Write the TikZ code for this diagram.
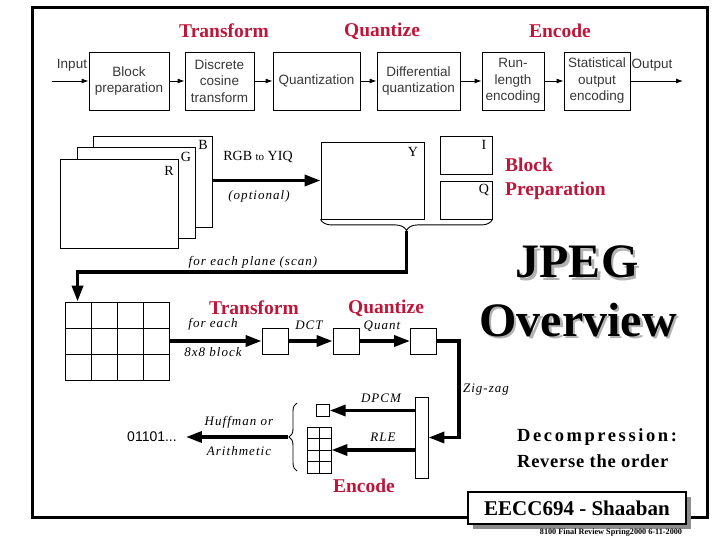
\documentclass[tikz,border=0pt]{standalone}
\usepackage{fontspec}
\setmainfont{Liberation Serif}
\newfontfamily\sansf{Liberation Sans}
\newfontfamily\itsp[LetterSpace=8]{Liberation Serif}
\newfontfamily\bsp[LetterSpace=4]{Liberation Serif}
\newfontfamily\bspw[LetterSpace=14]{Liberation Serif}
\usetikzlibrary{arrows.meta,decorations.pathreplacing}
\definecolor{jred}{RGB}{190,22,58}
\definecolor{ptext}{RGB}{55,55,55}
\begin{document}
\begin{tikzpicture}[x=1pt,y=-1pt,
 pbox/.style={draw, line width=0.8pt, minimum height=58pt, inner sep=1pt, align=center, font=\sansf\fontsize{13.5}{16.5}\selectfont, text=ptext},
 plab/.style={font=\sansf\fontsize{13.5}{16}\selectfont, text=ptext, inner sep=0pt},
 thinarr/.style={line width=0.9pt, -{Latex[length=7pt,width=5pt]}},
 thickarr/.style={line width=3.5pt, -{Triangle[length=16pt,width=11pt]}},
 redhead/.style={font=\bfseries\fontsize{19.5}{24}\selectfont, text=jred, inner sep=0pt},
 plane/.style={draw, line width=0.9pt, fill=white, inner sep=0pt},
 cell/.style={draw, line width=0.9pt, fill=white, inner sep=0pt},
 lett/.style={font=\fontsize{14}{16}\selectfont, inner sep=0pt},
 itl/.style={font=\itsp\itshape\fontsize{13}{15}\selectfont, inner sep=0pt},
 bigt/.style={font=\bfseries\fontsize{48}{50}\selectfont, inner sep=0pt},
]
\useasboundingbox (0,0) rectangle (720,540);
\draw[line width=3pt] (32,8) rectangle (707,517);

% ---- top pipeline
\node[redhead] (h1) at (224,31) {Transform};
\node[redhead] (h2) at (382,31) {Quantize};
\node[redhead] (h3) at (560,31) {Encode};
\node[pbox, minimum width=80pt] (b1) at (129,81) {Block\\preparation};
\node[pbox, minimum width=69pt] (b2) at (219.5,81) {Discrete\\cosine\\transform};
\node[pbox, minimum width=87pt] (b3) at (316.5,81) {Quantization};
\node[pbox, minimum width=83pt] (b4) at (418.5,81) {Differential\\quantization};
\node[pbox, minimum width=62pt] (b5) at (513,81) {Run-\\length\\encoding};
\node[pbox, minimum width=66pt] (b6) at (597,81) {Statistical\\output\\encoding};
\coordinate (in) at (52,81);
\coordinate (out) at (683,81);
\node[plab] (inl) at (72,65) {Input};
\node[plab] (outl) at (652,65) {Output};
\draw[thinarr] (in) -- (b1);
\draw[thinarr] (b1) -- (b2);
\draw[thinarr] (b2) -- (b3);
\draw[thinarr] (b3) -- (b4);
\draw[thinarr] (b4) -- (b5);
\draw[thinarr] (b5) -- (b6);
\draw[thinarr] (b6) -- (out);

% ---- RGB planes
\node[plane, minimum width=119pt, minimum height=91pt] (pB) at (152.5,181.5) {};
\node[plane, minimum width=118pt, minimum height=91pt] (pG) at (136,192.5) {};
\node[plane, minimum width=118pt, minimum height=89pt] (pR) at (119,203.5) {};
\node[lett] (lB) at (203,145) {B};
\node[lett] (lG) at (186,157) {G};
\node[lett] (lR) at (169,171) {R};
\node[plane, minimum width=103pt, minimum height=77pt] (Y) at (372.5,180.5) {};
\node[plane, minimum width=52pt, minimum height=38pt] (I) at (466,155) {};
\node[plane, minimum width=52pt, minimum height=38pt] (Q) at (466,200) {};
\node[lett] (lY) at (413,152) {Y};
\node[lett] (lI) at (484,145) {I};
\node[lett] (lQ) at (484,190) {Q};
\draw[thickarr] (pB.east |- Y.west) -- (Y.west);
\node[lett] (rgb) at (258,157) {RGB {\fontsize{11}{13}\selectfont to} YIQ};
\node[itl] (opt) at (259,196) {(optional)};
\draw[line width=0.9pt, decorate, decoration={brace, mirror, amplitude=11pt}] (Y.south west) -- (Q.south east);
\coordinate (tip) at (406.5,231);
\coordinate (bend) at (406.5,272);
\node[itl] (scan) at (253,262) {for each plane (scan)};

% ---- block grid
\node[cell, minimum width=104pt, minimum height=78pt] (grid) at (117,341) {};
\foreach \x in {91,117,143} \draw[line width=0.9pt] (\x,302) -- (\x,380);
\foreach \y in {328,354} \draw[line width=0.9pt] (65,\y) -- (169,\y);
\draw[thickarr] (tip) -- (bend) -| ([xshift=13pt]grid.north west);

\node[cell, minimum size=26pt] (s1) at (275,341) {};
\node[cell, minimum size=26pt] (s2) at (346,341) {};
\node[cell, minimum size=26pt] (s3) at (423.5,341) {};
\draw[thickarr] (grid.east) -- (s1.west);
\draw[thickarr] (s1.east) -- (s2.west);
\draw[thickarr] (s2.east) -- (s3.west);
\node[itl] (fe) at (213,324) {for each};
\node[itl] (b8) at (213,352) {8x8 block};
\node[itl] (dct) at (309,325) {DCT};
\node[itl] (qnt) at (382,326) {Quant};
\node[redhead] (t2) at (254,308) {Transform};
\node[redhead] (q2) at (386,308) {Quantize};

% ---- encode part
\node[cell, minimum width=13pt, minimum height=81pt] (bar) at (421.5,437.5) {};
\coordinate (zz) at (459,341);
\draw[thickarr] (s3.east) -- (zz) |- (bar.east);
\node[itl] (zig) at (486,390) {Zig-zag};
\node[cell, minimum size=12.5pt] (dp) at (323,410.5) {};
\node[cell, minimum width=24pt, minimum height=46pt] (g2) at (319,450) {};
\draw[line width=0.9pt] (319,427) -- (319,473);
\foreach \y in {438.5,450,461.5} \draw[line width=0.9pt] (307,\y) -- (331,\y);
\draw[thickarr] (bar.west |- dp.east) -- (dp.east);
\draw[thickarr] (bar.west |- g2.east) -- (g2.east);
\node[itl] (dpcm) at (381,398) {DPCM};
\node[itl] (rle) at (383,437) {RLE};
\draw[line width=0.9pt, decorate, decoration={brace, amplitude=8pt}] (297,471) -- (297,403);
\coordinate (tip2) at (288,437);
\node[font=\sansf\fontsize{14}{16}\selectfont, inner sep=0pt] (code) at (152,437) {01101...};
\draw[thickarr] (tip2) -- ([xshift=9pt]code.east);
\node[itl] (huf) at (239,422) {Huffman or};
\node[itl] (ari) at (239,451) {Arithmetic};
\node[redhead] (e2) at (364,486) {Encode};

% ---- titles
\node[redhead, anchor=west, align=left] (bp) at (505,179) {Block\\Preparation};
\node[bigt, text=black!30] (jpegs) at (579.5,264.5) {JPEG};
\node[bigt] (jpeg) at (577,262) {JPEG};
\node[bigt, text=black!30] (ovs) at (580.5,322.5) {Overview};
\node[bigt] (ov) at (578,320) {Overview};
\node[font=\bspw\bfseries\fontsize{18.5}{24}\selectfont, anchor=west, inner sep=0pt] (dec1) at (517,437) {Decompression:};
\node[font=\bsp\bfseries\fontsize{18.5}{24}\selectfont, anchor=west, inner sep=0pt] (dec2) at (517,461) {Reverse the order};

% ---- footer box
\fill[black!45] (473,497) rectangle (691,529);
\node[draw, line width=1.5pt, fill=white, minimum width=218pt, minimum height=32pt, font=\bfseries\fontsize{21}{24}\selectfont] (ee) at (577,508) {EECC694 - Shaaban};
\node[font=\bfseries\fontsize{8.2}{9}\selectfont, inner sep=0pt] (ft) at (611,533) {8100 Final Review Spring2000 6-11-2000};
\end{tikzpicture}
\end{document}
